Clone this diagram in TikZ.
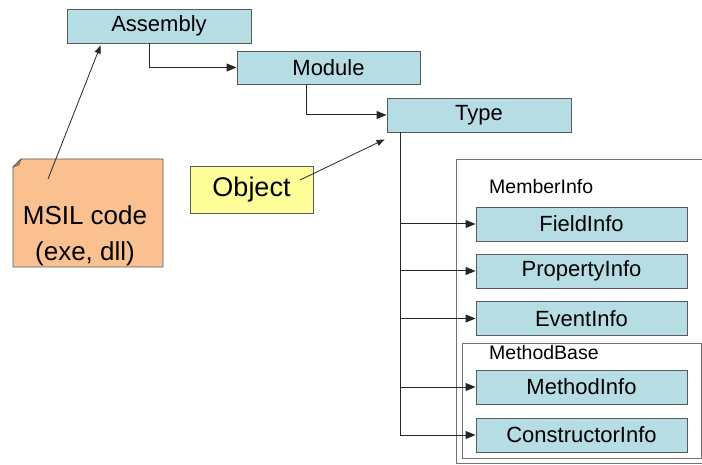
\documentclass[tikz,border=0pt]{standalone}
\usepackage{fontspec}
\setmainfont{Liberation Sans}
\usepackage{xcolor}
\usetikzlibrary{positioning, arrows.meta}

\definecolor{clsblue}{RGB}{183,221,228}
\definecolor{noteorange}{RGB}{250,192,143}
\definecolor{noteyellow}{RGB}{255,255,153}

\begin{document}
\begin{tikzpicture}[x=1pt, y=1pt,
        cls/.style={draw=black!65, fill=clsblue, line width=0.9pt,
                    minimum width=184pt, minimum height=34pt, inner sep=0pt,
                    font=\fontsize{22}{24}\selectfont},
        member/.style={cls, minimum width=211pt},
        group/.style={draw=black!55, line width=0.7pt},
        grouplabel/.style={anchor=west, inner sep=0pt, font=\fontsize{19.5}{22}\selectfont},
        link/.style={draw=black!85, line width=1pt, -{Triangle[length=10pt,width=8pt]}}]
      \useasboundingbox (0,0) rectangle (702,-465);

      % groups of member classes
      \draw[group] (456,-159) rectangle (710,-463);
      \draw[group] (462,-343) rectangle (701,-458);
      \node[grouplabel] (memberlbl) at (489,-187) {MemberInfo};
      \node[grouplabel] (methodlbl) at (489,-353) {MethodBase};

      % hierarchy
      \node[cls] (asm) at (159,-26) {Assembly};
      \node[cls, minimum width=183pt, minimum height=33pt] (mod) at (328.5,-67.5) {Module};
      \node[cls] (type) at (479,-115) {Type};

      \node[member] (field) at (581.5,-224) {FieldInfo};
      \node[member] (prop) at (581.5,-271) {PropertyInfo};
      \node[member] (event) at (581.5,-318.5) {EventInfo};
      \node[member] (method) at (581.5,-387) {MethodInfo};
      \node[member] (ctor) at (581.5,-435) {ConstructorInfo};

      \draw[link] ([xshift=-10pt]asm.south) |- (mod.west);
      \draw[link] ([xshift=-22.5pt]mod.south) |- (type.west);

      \coordinate (trunk) at ([xshift=14pt]type.south west);
      \draw[link] (trunk) |- (ctor.west);
      \foreach \m in {field, prop, event, method}
        \draw[link] (trunk |- \m.west) -- (\m.west);

      % MSIL note with folded corner
      \draw[draw=black!65, fill=noteorange, line width=0.9pt]
        (21,-159) -- (163,-159) -- (163,-267) -- (13,-267) -- (13,-167) -- cycle;
      \draw[draw=black!65, fill=noteorange!70!black, line width=0.6pt]
        (21,-159) -- (13,-167) -- (19,-165) -- cycle;
      \node[align=center, inner sep=0pt, font=\fontsize{26}{36}\selectfont]
        (msil) at (85,-236) {MSIL code\\(exe, dll)};
      \coordinate (msiltail) at (48,-179);
      \draw[link, line width=0.8pt, -{Triangle[length=8pt,width=6pt]}]
        (msiltail) -- ([xshift=34pt,yshift=-2pt]asm.south west);

      % object instance
      \node[draw=black!65, fill=noteyellow, line width=0.9pt, minimum width=123pt,
            minimum height=47pt, font=\fontsize{27}{30}\selectfont] (obj) at (251.5,-189.5) {Object};
      \coordinate (objtail) at (300,-180);
      \draw[link, line width=0.8pt, -{Triangle[length=8pt,width=6pt]}]
        (objtail) -- ([shift={(-2pt,-7pt)}]type.south west);
\end{tikzpicture}
\end{document}
